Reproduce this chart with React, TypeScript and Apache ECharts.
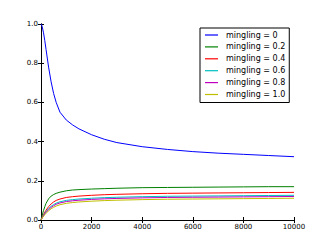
import React, { useEffect, useRef } from "react";
import * as echarts from "echarts";

const xs = [0, 25, 50, 100, 150, 200, 300, 400, 500, 600, 750, 1000, 1250, 1500, 2000, 2500, 3000, 4000, 5000, 6000, 7000, 8000, 9000, 10000];
const m00 = [1.0, 0.995, 0.985, 0.955, 0.915, 0.87, 0.78, 0.705, 0.645, 0.6, 0.55, 0.51, 0.485, 0.465, 0.435, 0.412, 0.395, 0.374, 0.36, 0.349, 0.341, 0.335, 0.329, 0.323];
const m02 = [0, 0.012, 0.025, 0.048, 0.068, 0.085, 0.108, 0.122, 0.13, 0.136, 0.142, 0.149, 0.153, 0.155, 0.158, 0.16, 0.162, 0.165, 0.166, 0.167, 0.168, 0.169, 0.17, 0.17];
const m04 = [0, 0.007, 0.014, 0.028, 0.04, 0.05, 0.068, 0.082, 0.092, 0.1, 0.107, 0.115, 0.119, 0.122, 0.126, 0.129, 0.131, 0.134, 0.136, 0.137, 0.138, 0.139, 0.14, 0.141];
const m06 = [0, 0.006, 0.012, 0.024, 0.034, 0.043, 0.058, 0.07, 0.079, 0.086, 0.093, 0.1, 0.104, 0.107, 0.111, 0.114, 0.116, 0.119, 0.121, 0.122, 0.123, 0.124, 0.125, 0.126];
const m08 = [0, 0.0055, 0.011, 0.022, 0.031, 0.039, 0.053, 0.064, 0.073, 0.08, 0.087, 0.094, 0.098, 0.101, 0.105, 0.108, 0.11, 0.113, 0.115, 0.116, 0.117, 0.118, 0.119, 0.12];
const m10 = [0, 0.005, 0.01, 0.019, 0.027, 0.034, 0.047, 0.057, 0.065, 0.071, 0.078, 0.085, 0.089, 0.092, 0.096, 0.099, 0.101, 0.104, 0.106, 0.107, 0.108, 0.109, 0.11, 0.111];

const seriesNames = ["mingling = 0", "mingling = 0.2", "mingling = 0.4", "mingling = 0.6", "mingling = 0.8", "mingling = 1.0"];
const seriesValues = [m00, m02, m04, m06, m08, m10];
const colors = ["#0000ff", "#008000", "#ff0000", "#00bfbf", "#bf00bf", "#bfbf00"];

const FONT = "DejaVu Sans";

export default function App() {
  const ref = useRef<HTMLDivElement>(null);
  useEffect(() => {
    if (!ref.current) return;
    const chart = echarts.init(ref.current, null, { renderer: "svg" });
    const axisCommon = {
      min: 0,
      axisLine: { show: true, lineStyle: { color: "#000", width: 1 } },
      axisTick: { show: true, inside: true, length: 3, lineStyle: { color: "#000" } },
      splitLine: { show: false },
    };
    chart.setOption({
      animation: false,
      backgroundColor: "#fff",
      grid: { left: 41, top: 24, width: 253, height: 196, show: false },
      legend: {
        show: true,
        orient: "vertical",
        left: 200,
        top: 28,
        data: seriesNames,
        icon: "rect",
        itemWidth: 13,
        itemHeight: 1.2,
        itemGap: 3.9,
        padding: [3, 4, 4, 5],
        borderColor: "#000",
        borderWidth: 1,
        backgroundColor: "#fff",
        textStyle: { fontFamily: FONT, fontSize: 8, color: "#000", padding: [0, 0, 0, 3] },
      },
      xAxis: [
        {
          ...axisCommon,
          type: "value",
          max: 10000,
          interval: 2000,
          position: "bottom",
          axisLabel: { fontFamily: FONT, fontSize: 7, color: "#000", margin: 3, formatter: (v: number) => String(v) },
        },
        {
          ...axisCommon,
          type: "value",
          max: 10000,
          interval: 2000,
          position: "top",
          axisLabel: { show: false },
        },
      ],
      yAxis: [
        {
          ...axisCommon,
          type: "value",
          max: 1,
          interval: 0.2,
          position: "left",
          axisLabel: { fontFamily: FONT, fontSize: 7, color: "#000", margin: 3, formatter: (v: number) => v.toFixed(1) },
        },
        {
          ...axisCommon,
          type: "value",
          max: 1,
          interval: 0.2,
          position: "right",
          axisLabel: { show: false },
        },
      ],
      series: seriesNames.map((name, i) => ({
        name,
        type: "line",
        xAxisIndex: 0,
        yAxisIndex: 0,
        data: xs.map((x, j) => [x, seriesValues[i][j]]),
        symbol: "none",
        smooth: false,
        lineStyle: { color: colors[i], width: 1 },
        itemStyle: { color: colors[i] },
      })),
    });
    return () => chart.dispose();
  }, []);
  return <div ref={ref} style={{ position: "fixed", left: 0, top: 0, width: 327, height: 245 }} />;
}
